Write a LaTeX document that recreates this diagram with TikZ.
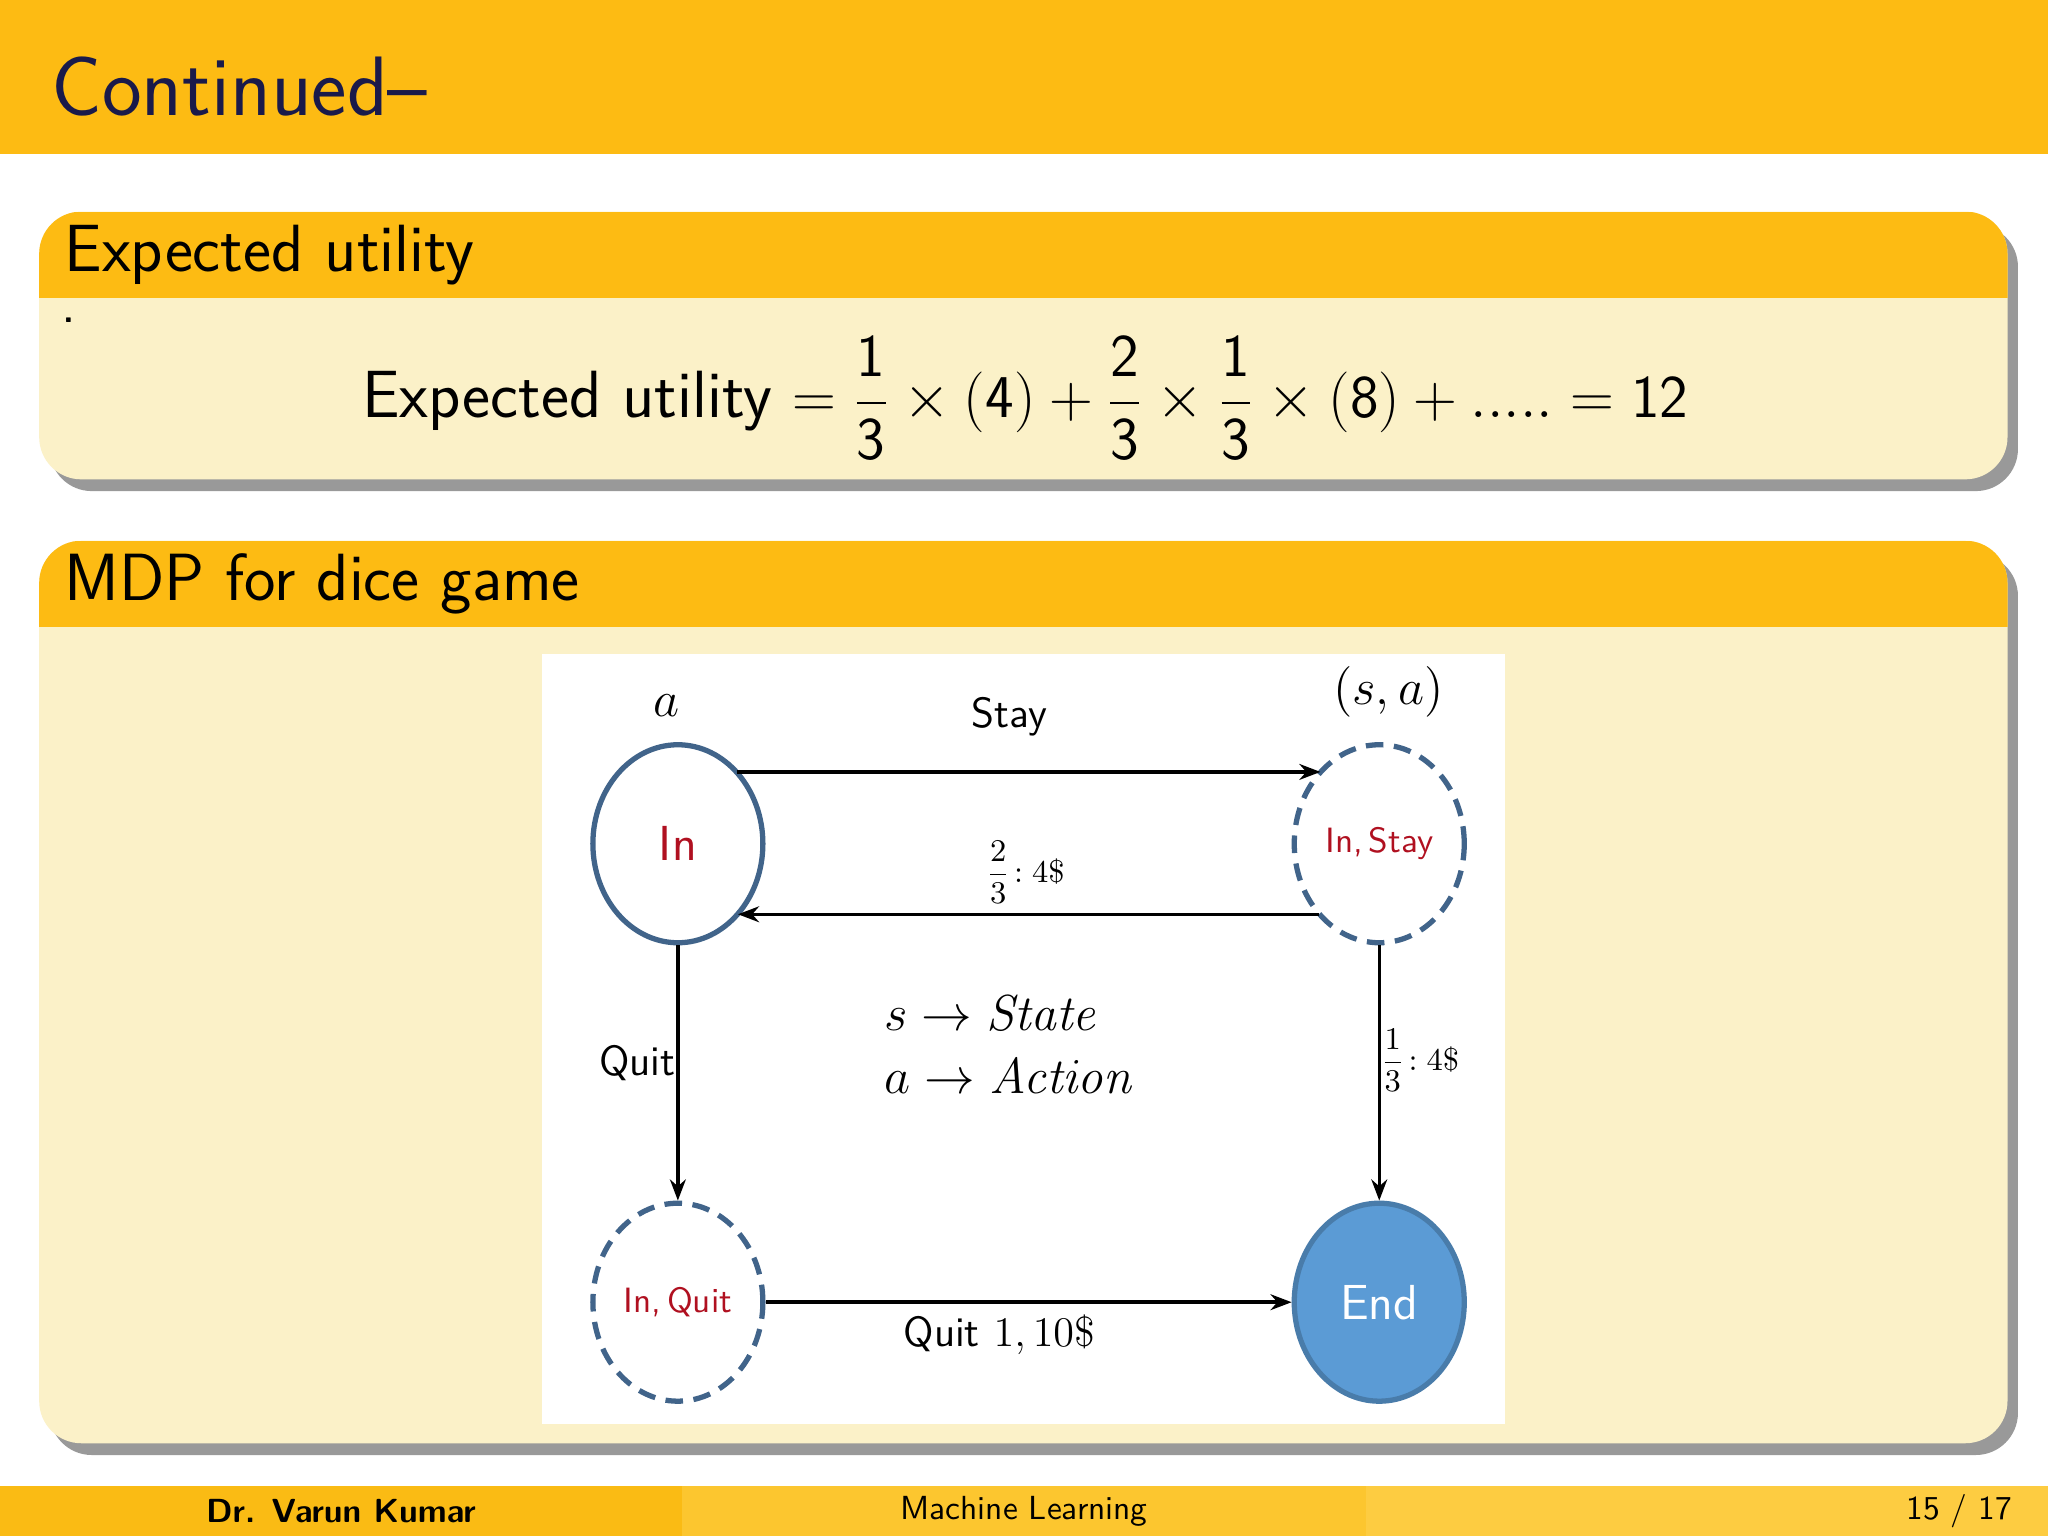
\documentclass[tikz,border=0pt]{standalone}
\usepackage{amsmath}
\usetikzlibrary{shapes.geometric,arrows.meta,calc}
\definecolor{byel}{HTML}{FDBB13}
\definecolor{blight}{HTML}{FBF1C8}
\definecolor{navy}{HTML}{1A1A4A}
\definecolor{ered}{HTML}{B01020}
\definecolor{endblue}{HTML}{5B9BD5}
\definecolor{ring}{HTML}{41648A}
\definecolor{foot1}{HTML}{FABB14}
\definecolor{foot2}{HTML}{FCC62F}
\definecolor{foot3}{HTML}{FDCC41}
\tikzset{
 st/.style={ellipse,draw=ring,line width=1.5pt,minimum width=1.70cm,minimum height=1.98cm,inner sep=0pt},
 dst/.style={st,dashed,dash pattern=on 5pt off 3pt},
 arr/.style={-{Stealth[length=6pt]},line width=1pt},
 lbl/.style={font=\fontsize{12}{14}\selectfont\sffamily},
 blk/.style={rounded corners=12pt}
}
\begin{document}
\begin{tikzpicture}[x=0.01306cm,y=-0.01306cm]
\useasboundingbox (0,0) rectangle (1568,1176);
\fill[white] (0,0) rectangle (1568,1176);
\fill[byel] (0,0) rectangle (1568,118);
\node[anchor=west,text=navy,font=\fontsize{24}{28}\selectfont\sffamily] (title) at (30,66) {Continued--};
% block 1
\fill[black!40,blk] (38,172) rectangle (1545,376);
\fill[blight,blk] (30,162) rectangle (1537,367);
\begin{scope}
\clip[blk] (30,162) rectangle (1537,367);
\fill[byel] (30,162) rectangle (1537,228);
\end{scope}
\node[anchor=west,font=\fontsize{19}{22}\selectfont\sffamily] (b1t) at (40,195) {Expected utility};
\node[font=\sffamily\bfseries] (dot) at (53,245) {.};
\node[font=\fontsize{19}{22}\selectfont] (eq) at (785,305) {\textsf{Expected utility} $=\dfrac{\mathsf{1}}{\mathsf{3}}\times(\mathsf{4})+\dfrac{\mathsf{2}}{\mathsf{3}}\times\dfrac{\mathsf{1}}{\mathsf{3}}\times(\mathsf{8})+\mathsf{.....}=\mathsf{12}$};
% block 2
\fill[black!40,blk] (38,424) rectangle (1545,1114);
\fill[blight,blk] (30,414) rectangle (1537,1105);
\begin{scope}
\clip[blk] (30,414) rectangle (1537,1105);
\fill[byel] (30,414) rectangle (1537,480);
\end{scope}
\node[anchor=west,font=\fontsize{19}{22}\selectfont\sffamily] (b2t) at (40,447) {MDP for dice game};
\fill[white] (415,501) rectangle (1152,1090);
\node[st] (in) at (519,646) {\textcolor{ered}{\fontsize{14}{16}\selectfont\sffamily In}};
\node[dst] (stay) at (1056,646) {\textcolor{ered}{\fontsize{10}{12}\selectfont\sffamily In,\,Stay}};
\node[dst] (quit) at (519,997) {\textcolor{ered}{\fontsize{10}{12}\selectfont\sffamily In,\,Quit}};
\node[st,fill=endblue,draw=endblue!80!black] (end) at (1056,997) {\textcolor{white}{\fontsize{14}{16}\selectfont\sffamily End}};
\draw[arr] ($(in.center)+(45,-55)$) -- ($(stay.center)+(-45,-55)$);
\draw[arr] ($(stay.center)+(-46,54)$) -- ($(in.center)+(46,54)$);
\draw[arr] (in.south) -- (quit.north);
\draw[arr] (stay.south) -- (end.north);
\draw[arr] (quit.east) -- (end.west);
\node[font=\fontsize{14}{16}\selectfont] (la) at (510,540) {$a$};
\node[font=\fontsize{14}{16}\selectfont] (lsa) at (1063,530) {$(s,a)$};
\node[lbl] (lstay) at (773,549) {Stay};
\node[font=\fontsize{9}{11}\selectfont] (l23) at (785,668) {$\dfrac{2}{3}\!:4\$$};
\node[font=\fontsize{14}{18}\selectfont,align=left] (leg) at (773,800) {$s\rightarrow \mathit{State}$\\$a\rightarrow \mathit{Action}$};
\node[lbl] (lq) at (488,814) {Quit};
\node[font=\fontsize{9}{11}\selectfont] (l13) at (1087,812) {$\dfrac{1}{3}\!:4\$$};
\node[lbl] (lq2) at (765,1022) {Quit $1,10\$$};
% footer
\fill[foot1] (0,1138) rectangle (522,1176);
\fill[foot2] (522,1138) rectangle (1046,1176);
\fill[foot3] (1046,1138) rectangle (1568,1176);
\node[font=\fontsize{9.5}{11}\selectfont\sffamily\bfseries] (f1) at (261,1157) {Dr. Varun Kumar};
\node[font=\fontsize{9.5}{11}\selectfont\sffamily] (f2) at (784,1157) {Machine Learning};
\node[font=\fontsize{9.5}{11}\selectfont\sffamily] (f3) at (1500,1157) {15 / 17};
\end{tikzpicture}
\end{document}
